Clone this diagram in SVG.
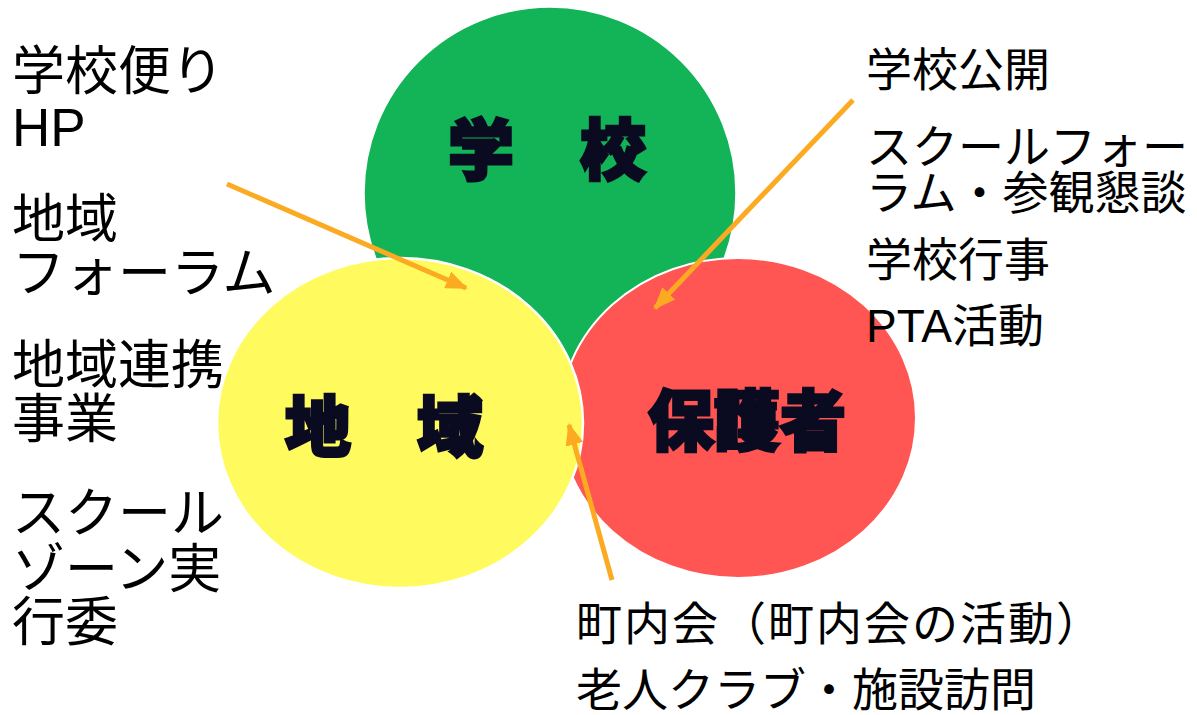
<svg xmlns="http://www.w3.org/2000/svg" width="1197" height="715" viewBox="0 0 1197 715">
<defs>
<style>
.t{font-family:"Liberation Sans","Noto Sans CJK JP",sans-serif;fill:#000}
.l{font-size:53px}
.r{font-size:46px}
.c{font-family:"Noto Sans CJK JP",sans-serif;font-size:66px;font-weight:900;fill:#0a0a20;stroke:#0a0a20;stroke-width:3;text-anchor:middle}
.arr{stroke:#FBAA22;stroke-width:5;fill:none;marker-end:url(#ah)}
</style>
<marker id="ah" markerUnits="userSpaceOnUse" markerWidth="22" markerHeight="18" refX="20" refY="9" orient="auto">
<path d="M0,0 L22,9 L0,18 Z" fill="#FBAA22"/>
</marker>
</defs>
<rect width="1197" height="715" fill="#fff"/>
<g id="node-school">
<circle cx="550" cy="193" r="186" fill="#13B358" stroke="#fff" stroke-width="1.5"/>
<text class="c" x="547" y="174">学　校</text>
</g>
<g id="node-parents">
<ellipse cx="738" cy="418" rx="178" ry="160" fill="#FF5553" stroke="#fff" stroke-width="2"/>
<text class="c" x="747" y="445">保護者</text>
</g>
<g id="node-community">
<ellipse cx="400" cy="423" rx="183" ry="165" fill="#FFFB5E" stroke="#fff" stroke-width="2.5"/>
<text class="c" x="384" y="451">地　域</text>
</g>
<g id="connectors">
<line class="arr" x1="227" y1="184" x2="466" y2="288"/>
<line class="arr" x1="853" y1="100" x2="655" y2="308"/>
<line class="arr" x1="612" y1="580" x2="569" y2="425"/>
</g>
<g id="labels-left" class="t l">
<text x="12" y="90">学校便り</text>
<text x="12" y="146">HP</text>
<text x="12" y="238">地域</text>
<text x="12" y="292">フォーラム</text>
<text x="12" y="384">地域連携</text>
<text x="12" y="438">事業</text>
<text x="12" y="532">スクール</text>
<text x="12" y="588">ゾーン実</text>
<text x="12" y="641">行委</text>
</g>
<g id="labels-right" class="t r">
<text x="866" y="86">学校公開</text>
<text x="866" y="163">スクールフォー</text>
<text x="866" y="209">ラム・参観懇談</text>
<text x="866" y="276">学校行事</text>
<text x="866" y="342">PTA活動</text>
</g>
<g id="labels-bottom" class="t r">
<text x="576" y="640" letter-spacing="2">町内会（町内会の活動）</text>
<text x="576" y="706">老人クラブ・施設訪問</text>
</g>
</svg>
